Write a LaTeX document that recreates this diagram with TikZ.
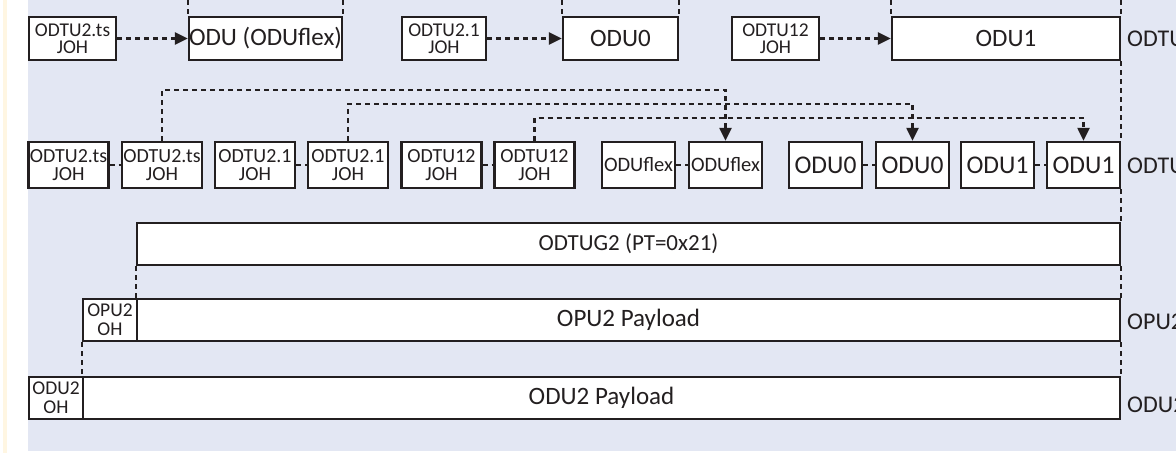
\documentclass[tikz,border=0pt]{standalone}
\usepackage{fontspec}
\setmainfont{Carlito}
\usetikzlibrary{arrows.meta}
\definecolor{bgblue}{RGB}{227,231,243}
\definecolor{ink}{RGB}{35,31,32}
\definecolor{cream}{RGB}{255,246,226}
\tikzset{
    box/.style ={
        rectangle,
        minimum height =43pt,
        inner sep=0pt,
        draw=ink,
        line width=2.4pt,
        fill=white,
        text=ink,
        align=center
    },
    johsmall/.style ={box, font=\fontsize{19.5}{17.5}\selectfont},
    oduwide/.style ={box, font=\fontsize{25}{26}\selectfont},
    johbig/.style ={box, minimum width=80pt, minimum height=46pt, font=\fontsize{20}{18.5}\selectfont},
    oduunit/.style ={box, minimum width=73pt, minimum height=46pt, font=\fontsize{25.5}{26}\selectfont},
    payload/.style ={box, minimum height=42pt, font=\fontsize{25}{26}\selectfont},
    ohbox/.style ={box, minimum width=54pt, minimum height=42pt, font=\fontsize{19.5}{19}\selectfont},
    link/.style ={draw=ink, line width=2.4pt, dash pattern=on 5pt off 4pt},
    side/.style ={text=ink, anchor=west, inner sep=0pt, font=\fontsize{24}{26}\selectfont}
}

\begin{document}
\begin{tikzpicture}[x=1pt,y=-1pt,>={Triangle[length=13pt,width=12pt]}]
        \useasboundingbox (0,0) rectangle (1176,453);
        \clip (0,0) rectangle (1176,453);
        \fill[white] (0,0) rectangle (1176,453);
        \fill[cream] (3,0) rectangle (7,453);
        \fill[bgblue] (28,0) rectangle (1176,451);

        % first row
        \node[johsmall, minimum width=87pt] (TSJOH) at (72.5,38.5) {ODTU2.ts\\JOH};
        \node[oduwide, minimum width=153pt] (ODUFLEX) at (265.5,38.5) {ODU (ODUflex)};
        \node[johsmall, minimum width=84pt] (ONEJOH) at (444,38.5) {ODTU2.1\\JOH};
        \node[oduwide, minimum width=115pt] (ODUZERO) at (620.5,38.5) {ODU0};
        \node[johsmall, minimum width=87pt] (TWELVEJOH) at (775.5,38.5) {ODTU12\\JOH};
        \node[oduwide, minimum width=228pt] (ODUONE) at (1006,38.5) {ODU1};
        \draw[link,->] (TSJOH)--(ODUFLEX);
        \draw[link,->] (ONEJOH)--(ODUZERO);
        \draw[link,->] (TWELVEJOH)--(ODUONE);
        \coordinate (TOPA) at (ODUFLEX.north west |- 0,0);
        \coordinate (TOPB) at (ODUFLEX.north east |- 0,0);
        \coordinate (TOPC) at (ODUZERO.north west |- 0,0);
        \coordinate (TOPD) at (ODUZERO.north east |- 0,0);
        \coordinate (TOPE) at (ODUONE.north west |- 0,0);
        \coordinate (TOPF) at (ODUONE.north east |- 0,0);
        \draw[link] (TOPA)--(ODUFLEX.north west);
        \draw[link] (TOPB)--(ODUFLEX.north east);
        \draw[link] (TOPC)--(ODUZERO.north west);
        \draw[link] (TOPD)--(ODUZERO.north east);
        \draw[link] (TOPE)--(ODUONE.north west);
        \draw[link] (TOPF)--(ODUONE.north east);

        % second row
        \node[johbig] (TSA) at (68.5,165) {ODTU2.ts\\JOH};
        \node[johbig] (TSB) at (162,165) {ODTU2.ts\\JOH};
        \node[johbig] (ONEA) at (255,165) {ODTU2.1\\JOH};
        \node[johbig] (ONEB) at (348,165) {ODTU2.1\\JOH};
        \node[johbig] (TWELVEA) at (441.5,165) {ODTU12\\JOH};
        \node[johbig] (TWELVEB) at (534.5,165) {ODTU12\\JOH};
        \node[oduunit, font=\fontsize{20.5}{24}\selectfont] (FLEXA) at (638.5,165) {ODUflex};
        \node[oduunit, font=\fontsize{20.5}{24}\selectfont] (FLEXB) at (725.5,165) {ODUflex};
        \node[oduunit] (ZEROA) at (825.5,165) {ODU0};
        \node[oduunit] (ZEROB) at (912.5,165) {ODU0};
        \node[oduunit] (ONEUA) at (997.5,165) {ODU1};
        \node[oduunit] (ONEUB) at (1083.5,165) {ODU1};
        \draw[link] (TSA)--(TSB);
        \draw[link] (ONEA)--(ONEB);
        \draw[link] (TWELVEA)--(TWELVEB);
        \draw[link] (FLEXA)--(FLEXB);
        \draw[link] (ZEROA)--(ZEROB);
        \draw[link] (ONEUA)--(ONEUB);
        \draw[link,->] (TSB.north)--++(0,-51)-|(FLEXB.north);
        \draw[link,->] (ONEB.north)--++(0,-37)-|(ZEROB.north);
        \draw[link,->] (TWELVEB.north)--++(0,-23)-|(ONEUB.north);

        % lower rows
        \node[payload, minimum width=983pt, font=\fontsize{23}{26}\selectfont] (ODTUG) at (628.5,244) {ODTUG2 (PT=0x21)};
        \node[ohbox] (OPUOH) at (110,320) {OPU2\\OH};
        \node[payload, minimum width=983pt] (OPUPAY) at (628.5,320) {OPU2 Payload};
        \node[ohbox] (ODUOH) at (56,398) {ODU2\\OH};
        \node[payload, minimum width=1037pt] (ODUPAY) at (601.5,398) {ODU2 Payload};
        \draw[link] (ODTUG.south west)--(OPUPAY.north west);
        \draw[link] (OPUOH.south west)--(ODUPAY.north west);
        \draw[link] (ODUONE.south east)--(ONEUB.north east);
        \draw[link] (ONEUB.south east)--(ODTUG.north east);
        \draw[link] (ODTUG.south east)--(OPUPAY.north east);
        \draw[link] (OPUPAY.south east)--(ODUPAY.north east);

        % side labels
        \node[side] (LABA) at (1127,39) {ODTU};
        \node[side] (LABB) at (1127,166) {ODTU};
        \node[side] (LABC) at (1127,322) {OPU2};
        \node[side] (LABD) at (1127,405) {ODU2};
    \end{tikzpicture}
\end{document}
